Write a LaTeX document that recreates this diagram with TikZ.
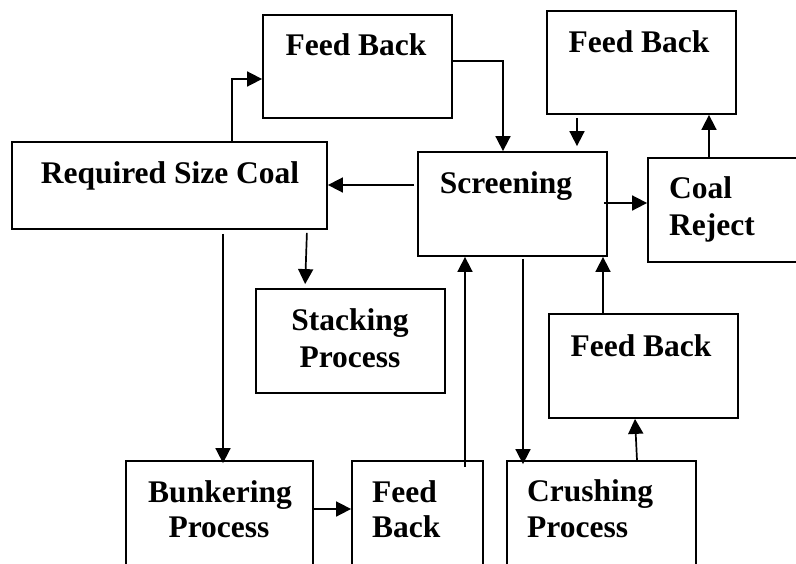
\documentclass[tikz,border=0pt]{standalone}
\usepackage{fontspec}
\setmainfont{Liberation Serif}
\usetikzlibrary{arrows.meta}
\tikzset{
  box/.style={draw, line width=1.8pt, inner sep=0pt, rectangle},
  lbl/.style={font=\bfseries\fontsize{31.5}{37}\selectfont, inner sep=0pt, anchor=base},
  lbll/.style={lbl, anchor=base west},
  arr/.style={line width=1.7pt, -{Triangle[length=15pt,width=15pt]}},
}
\begin{document}
\begin{tikzpicture}[x=1pt,y=-1pt]
\useasboundingbox (0,0) rectangle (796,563);
\clip (0,0) rectangle (796,563);
% boxes
\node[box, minimum width=189pt, minimum height=103pt] (fb1) at (357.5,66.5) {};
\node[box, minimum width=189pt, minimum height=103pt] (fb2) at (641.5,62.5) {};
\node[box, minimum width=315pt, minimum height=87pt] (rsc) at (169.5,185.5) {};
\node[box, minimum width=189pt, minimum height=104pt] (scr) at (512.5,204) {};
\node[box, minimum width=152pt, minimum height=104pt] (cr) at (724,210) {};
\node[box, minimum width=189pt, minimum height=104pt] (sp) at (350.5,341) {};
\node[box, minimum width=189pt, minimum height=104pt] (fb3) at (643.5,366) {};
\node[box, minimum width=187pt, minimum height=104pt] (bp) at (219.5,513) {};
\node[box, minimum width=131pt, minimum height=104pt] (fb4) at (417.5,513) {};
\node[box, minimum width=189pt, minimum height=104pt] (cp) at (601.5,513) {};
% texts
\node[lbl] (fb1t) at (356,55) {Feed Back};
\node[lbl] (fb2t) at (639,52) {Feed Back};
\node[lbl] (rsct) at (170,183) {Required Size Coal};
\node[lbl] (scrt) at (506,193) {Screening};
\node[lbll] (crt1) at (669,198) {Coal};
\node[lbll] (crt2) at (669,235) {Reject};
\node[lbl] (spt1) at (350,330) {Stacking};
\node[lbl] (spt2) at (350,367) {Process};
\node[lbl] (fb3t) at (641,356) {Feed Back};
\node[lbl] (bpt1) at (220,502) {Bunkering};
\node[lbl] (bpt2) at (219,537) {Process};
\node[lbll] (fb4t1) at (372,502) {Feed};
\node[lbll] (fb4t2) at (372,537) {Back};
\node[lbll] (cpt1) at (527,501) {Crushing};
\node[lbll] (cpt2) at (527,537) {Process};
% connectors
\draw[arr] (rsc.north -| 232,0) |- (fb1.west |- 0,79);
\draw[arr] (fb1.east |- 0,61) -| (scr.north -| 503,0);
\draw[arr, shorten <=3pt, shorten >=5pt] (fb2.south -| 577,0) -- (scr.north -| 577,0);
\draw[arr] (cr.north -| 709,0) -- (fb2.south -| 709,0);
\draw[arr, shorten <=-4pt] (scr.east |- 0,203) -- (cr.west |- 0,203);
\draw[arr, shorten <=3pt] (scr.west |- 0,185) -- (rsc.east |- 0,185);
\draw[arr, shorten <=3pt, shorten >=4pt] (rsc.south -| 307,0) -- (sp.north -| 305,0);
\draw[arr, shorten <=4pt, shorten >=-3pt] (rsc.south -| 223,0) -- (bp.north -| 223,0);
\draw[arr] (bp.east |- 0,509) -- (fb4.west |- 0,509);
\draw[arr, shorten <=-7pt] (fb4.north -| 465,0) -- (scr.south -| 465,0);
\draw[arr, shorten <=2pt, shorten >=-4pt] (scr.south -| 523,0) -- (cp.north -| 523,0);
\draw[arr] (cp.north -| 637,0) -- (fb3.south -| 635,0);
\draw[arr] (fb3.north -| 603,0) -- (scr.south -| 603,0);
\end{tikzpicture}
\end{document}
